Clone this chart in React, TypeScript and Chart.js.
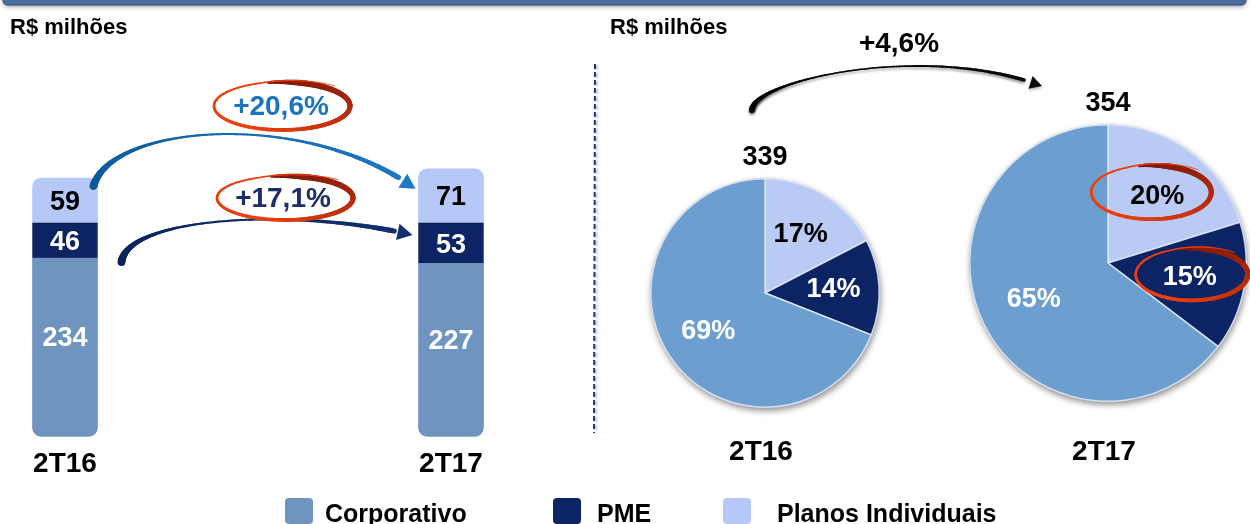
import React, { useEffect, useRef } from 'react';
import { Chart, registerables } from 'chart.js';

Chart.register(...registerables);

// ---------- DATA ----------
const categories = ['2T16', '2T17'];
const seriesNames = ['Corporativo', 'PME', 'Planos Individuais'];
const corporativo = [234, 227];
const pme = [46, 53];
const planos = [59, 71];
const totals = ['339', '354'];
const growthPlanos = '+20,6%';
const growthPme = '+17,1%';
const growthTotal = '+4,6%';
const pieLabels2T16 = ['17%', '14%', '69%']; // Planos, PME, Corporativo
const pieLabels2T17 = ['20%', '15%', '65%'];
const unitLabel = 'R$ milhões';

// ---------- STYLE ----------
const FONT = '"Liberation Sans", Arial, Helvetica, sans-serif';
const C_CORP = '#6f94c0';
const C_CORP_PIE = '#6c9fcf';
const C_PME = '#0c2464';
const C_PLANOS = '#b5c8f8';
const C_PLANOS_PIE = '#b9cbf5';

type P = { x: number; y: number };

function lerp(a: number, b: number, t: number) {
  return a + (b - a) * t;
}
function mix(c1: number[], c2: number[], t: number) {
  return `rgb(${Math.round(lerp(c1[0], c2[0], t))},${Math.round(lerp(c1[1], c2[1], t))},${Math.round(
    lerp(c1[2], c2[2], t)
  )})`;
}

function drawSwirl(ctx: CanvasRenderingContext2D, cx: number, cy: number, rx: number, ry: number) {
  const dark = [120, 22, 8];
  const bright = [236, 62, 14];
  const a0 = -Math.PI * 0.5 - 0.2;
  const span = Math.PI * 2 + 0.95;
  const n = 160;
  ctx.save();
  ctx.lineCap = 'round';
  let prev: P | null = null;
  for (let i = 0; i <= n; i++) {
    const t = i / n;
    const a = a0 + span * t;
    const s = 1 + Math.max(0, t - 0.84) * 0.9;
    const x = cx + rx * s * Math.cos(a);
    const y = cy + ry * s * Math.sin(a);
    if (prev) {
      const w = t < 0.07 ? lerp(2.5, 6, t / 0.07) : lerp(6, 0.7, (t - 0.07) / 0.93);
      ctx.strokeStyle = mix(dark, bright, Math.min(1, t * 1.9));
      ctx.lineWidth = w;
      ctx.beginPath();
      ctx.moveTo(prev.x, prev.y);
      ctx.lineTo(x, y);
      ctx.stroke();
    }
    prev = { x, y };
  }
  ctx.restore();
}

function drawArrow(
  ctx: CanvasRenderingContext2D,
  p0: P,
  p1: P,
  p2: P,
  p3: P,
  c0: number[],
  c1: number[],
  wStart: number,
  wMid: number,
  wEnd: number,
  head: number
) {
  const bez = (t: number): P => {
    const u = 1 - t;
    return {
      x: u * u * u * p0.x + 3 * u * u * t * p1.x + 3 * u * t * t * p2.x + t * t * t * p3.x,
      y: u * u * u * p0.y + 3 * u * u * t * p1.y + 3 * u * t * t * p2.y + t * t * t * p3.y,
    };
  };
  ctx.save();
  ctx.lineCap = 'round';
  const n = 120;
  const tEnd = 0.95;
  let prev = bez(0);
  for (let i = 1; i <= n; i++) {
    const t = (i / n) * tEnd;
    const q = bez(t);
    const w =
      t < 0.5
        ? wMid + (wStart - wMid) * Math.pow(1 - t / 0.5, 2)
        : wMid + (wEnd - wMid) * Math.pow((t - 0.5) / 0.5, 2);
    ctx.strokeStyle = mix(c0, c1, t);
    ctx.lineWidth = w;
    ctx.beginPath();
    ctx.moveTo(prev.x, prev.y);
    ctx.lineTo(q.x, q.y);
    ctx.stroke();
    prev = q;
  }
  const tip = bez(1);
  const back = bez(0.93);
  let dx = tip.x - back.x;
  let dy = tip.y - back.y;
  const len = Math.hypot(dx, dy) || 1;
  dx /= len;
  dy /= len;
  const bx = tip.x - dx * head;
  const by = tip.y - dy * head;
  const px = -dy;
  const py = dx;
  ctx.fillStyle = mix(c0, c1, 1);
  ctx.beginPath();
  ctx.moveTo(tip.x, tip.y);
  ctx.lineTo(bx + px * head * 0.55, by + py * head * 0.55);
  ctx.lineTo(bx - px * head * 0.55, by - py * head * 0.55);
  ctx.closePath();
  ctx.fill();
  ctx.restore();
}

function roundRectPath(ctx: CanvasRenderingContext2D, x: number, y: number, w: number, h: number, r: number) {
  ctx.beginPath();
  ctx.moveTo(x + r, y);
  ctx.lineTo(x + w - r, y);
  ctx.quadraticCurveTo(x + w, y, x + w, y + r);
  ctx.lineTo(x + w, y + h - r);
  ctx.quadraticCurveTo(x + w, y + h, x + w - r, y + h);
  ctx.lineTo(x + r, y + h);
  ctx.quadraticCurveTo(x, y + h, x, y + h - r);
  ctx.lineTo(x, y + r);
  ctx.quadraticCurveTo(x, y, x + r, y);
  ctx.closePath();
}

// ---------- bar chart overlay plugin ----------
const barOverlay = {
  id: 'barOverlay',
  afterDatasetsDraw(chart: any) {
    const ctx: CanvasRenderingContext2D = chart.ctx;
    const colors = ['#ffffff', '#ffffff', '#000000'];
    ctx.save();
    ctx.font = `bold 27px ${FONT}`;
    ctx.textAlign = 'center';
    ctx.textBaseline = 'middle';
    chart.data.datasets.forEach((ds: any, di: number) => {
      const meta = chart.getDatasetMeta(di);
      meta.data.forEach((el: any, i: number) => {
        const { x, y, base } = el.getProps(['x', 'y', 'base'], true);
        const h = base - y;
        const ty = di === 0 ? y + h * 0.45 : y + h / 2 + 2;
        ctx.fillStyle = colors[di];
        ctx.fillText(String(ds.data[i]), x, ty);
      });
    });
    ctx.restore();
  },
  afterDraw(chart: any) {
    const ctx: CanvasRenderingContext2D = chart.ctx;
    ctx.save();
    // header bar
    ctx.save();
    ctx.shadowColor = 'rgba(0,0,0,0.35)';
    ctx.shadowBlur = 4;
    ctx.shadowOffsetY = 2;
    roundRectPath(ctx, 3, -10, 1243, 15, 5);
    ctx.fillStyle = '#4a6d9e';
    ctx.fill();
    ctx.restore();
    roundRectPath(ctx, 3, -10, 1243, 15, 5);
    ctx.strokeStyle = '#2d4b7c';
    ctx.lineWidth = 1;
    ctx.stroke();

    // unit labels
    ctx.fillStyle = '#000';
    ctx.font = `bold 22px ${FONT}`;
    ctx.textAlign = 'left';
    ctx.textBaseline = 'alphabetic';
    ctx.fillText(unitLabel, 10, 34);
    ctx.fillText(unitLabel, 610, 34);

    // divider
    ctx.save();
    ctx.shadowColor = 'rgba(0,0,0,0.25)';
    ctx.shadowBlur = 2;
    ctx.shadowOffsetX = 2;
    ctx.shadowOffsetY = 1;
    ctx.strokeStyle = '#24309a';
    ctx.lineWidth = 2;
    ctx.setLineDash([5, 3]);
    ctx.beginPath();
    ctx.moveTo(595, 64);
    ctx.lineTo(594, 433);
    ctx.stroke();
    ctx.restore();

    // arrows between bars
    const mPme = chart.getDatasetMeta(1).data;
    const mPlan = chart.getDatasetMeta(2).data;
    const b0 = mPlan[0].getProps(['x', 'y', 'width'], true);
    const b1 = mPlan[1].getProps(['x', 'y', 'width'], true);
    const s0: P = { x: b0.x + b0.width / 2 - 4, y: b0.y + 8 };
    const e0: P = { x: b1.x - b1.width / 2 - 3, y: b1.y + 20 };
    drawArrow(
      ctx,
      s0,
      { x: s0.x + 18, y: s0.y - 62 },
      { x: e0.x - 110, y: e0.y - 80 },
      e0,
      [12, 88, 152],
      [30, 120, 200],
      8,
      2,
      6,
      15
    );
    const p0 = mPme[0].getProps(['x', 'y', 'width', 'base'], true);
    const p1 = mPme[1].getProps(['x', 'y', 'width'], true);
    const s1: P = { x: p0.x + p0.width / 2 + 24, y: p0.base + 4 };
    const e1: P = { x: p1.x - p1.width / 2 - 6, y: p1.y + 12 };
    drawArrow(
      ctx,
      s1,
      { x: s1.x + 6, y: s1.y - 45 },
      { x: e1.x - 120, y: e1.y - 28 },
      e1,
      [10, 36, 92],
      [18, 48, 110],
      8,
      2,
      6,
      15
    );

    // growth labels with swirls
    drawSwirl(ctx, 282, 106, 68, 24);
    drawSwirl(ctx, 285, 198, 68, 22);
    ctx.font = `bold 28px ${FONT}`;
    ctx.textAlign = 'center';
    ctx.textBaseline = 'middle';
    ctx.fillStyle = '#1a74c2';
    ctx.fillText(growthPlanos, 281, 107);
    ctx.fillStyle = '#1b2d6b';
    ctx.fillText(growthPme, 283, 199);

    // total growth arrow between pies
    ctx.save();
    ctx.shadowColor = 'rgba(0,0,0,0.3)';
    ctx.shadowBlur = 3;
    ctx.shadowOffsetY = 2;
    drawArrow(
      ctx,
      { x: 752, y: 110 },
      { x: 754, y: 80 },
      { x: 925, y: 42 },
      { x: 1042, y: 86 },
      [0, 0, 0],
      [10, 10, 10],
      6,
      1.5,
      4,
      12
    );
    ctx.restore();
    ctx.fillStyle = '#000';
    ctx.font = `bold 28px ${FONT}`;
    ctx.textAlign = 'center';
    ctx.textBaseline = 'alphabetic';
    ctx.fillText(growthTotal, 899, 52);

    // legend
    const legendColors = [C_CORP, C_PME, C_PLANOS];
    const legendX = [285, 553, 723];
    const textX = [325, 597, 777];
    ctx.font = `bold 25px ${FONT}`;
    ctx.textAlign = 'left';
    seriesNames.forEach((name, i) => {
      roundRectPath(ctx, legendX[i], 498, 28, 26, 4);
      ctx.fillStyle = legendColors[i];
      ctx.fill();
      ctx.fillStyle = '#000';
      ctx.fillText(name, textX[i], 522);
    });
    ctx.restore();
  },
};

// ---------- pie plugin ----------
const pieDeco = {
  id: 'pieDeco',
  beforeDatasetsDraw(chart: any) {
    const ctx: CanvasRenderingContext2D = chart.ctx;
    const arc = chart.getDatasetMeta(0).data[0];
    const { x, y, outerRadius } = arc.getProps(['x', 'y', 'outerRadius'], true);
    ctx.save();
    ctx.shadowColor = 'rgba(0,0,0,0.45)';
    ctx.shadowBlur = 6;
    ctx.shadowOffsetX = 1;
    ctx.shadowOffsetY = 3;
    ctx.beginPath();
    ctx.arc(x, y, outerRadius + 0.5, 0, Math.PI * 2);
    ctx.fillStyle = '#7f90aa';
    ctx.fill();
    ctx.restore();
  },
  afterDatasetsDraw(chart: any, _args: any, opts: any) {
    const ctx: CanvasRenderingContext2D = chart.ctx;
    const meta = chart.getDatasetMeta(0);
    const colors = ['#000', '#fff', '#fff'];
    ctx.save();
    let cx = 0;
    let cy = 0;
    let R = 0;
    const positions: P[] = [];
    meta.data.forEach((arc: any) => {
      const { x, y, startAngle, endAngle, outerRadius } = arc.getProps(
        ['x', 'y', 'startAngle', 'endAngle', 'outerRadius'],
        true
      );
      cx = x;
      cy = y;
      R = outerRadius;
      const mid = (startAngle + endAngle) / 2;
      positions.push({ x: x + Math.cos(mid) * outerRadius * 0.6, y: y + Math.sin(mid) * outerRadius * 0.6 });
    });
    if (opts.swirls) {
      drawSwirl(ctx, positions[0].x - 6, positions[0].y - 4, 60, 27);
      drawSwirl(ctx, positions[1].x + 2, positions[1].y - 3, 56, 26);
    }
    ctx.font = `bold 27px ${FONT}`;
    ctx.textAlign = 'center';
    ctx.textBaseline = 'middle';
    positions.forEach((p, i) => {
      ctx.fillStyle = colors[i];
      ctx.fillText(opts.labels[i], p.x, p.y);
    });
    ctx.fillStyle = '#000';
    ctx.textBaseline = 'alphabetic';
    ctx.fillText(opts.total, cx, cy - R - 14);
    ctx.font = `bold 28px ${FONT}`;
    ctx.fillText(opts.category, cx - 4, chart.height - 10);
    ctx.restore();
  },
};

function makePie(canvas: HTMLCanvasElement, values: number[], labels: string[], total: string, category: string, pad: any, swirls: boolean) {
  return new Chart(canvas, {
    type: 'pie',
    data: {
      labels: [seriesNames[2], seriesNames[1], seriesNames[0]],
      datasets: [
        {
          data: values,
          backgroundColor: [C_PLANOS_PIE, C_PME, C_CORP_PIE],
          borderColor: 'rgba(225,232,245,0.9)',
          borderWidth: 1.5,
        },
      ],
    },
    options: {
      responsive: false,
      animation: false,
      events: [],
      layout: { padding: pad },
      plugins: {
        legend: { display: false },
        tooltip: { enabled: false },
        pieDeco: { labels, total, category, swirls },
      } as any,
    },
    plugins: [pieDeco as any],
  });
}

export default function App() {
  const barRef = useRef<HTMLCanvasElement>(null);
  const pie1Ref = useRef<HTMLCanvasElement>(null);
  const pie2Ref = useRef<HTMLCanvasElement>(null);

  useEffect(() => {
    const bar = new Chart(barRef.current!, {
      type: 'bar',
      data: {
        labels: categories,
        datasets: [
          {
            label: seriesNames[0],
            data: corporativo,
            backgroundColor: C_CORP,
            borderRadius: { topLeft: 0, topRight: 0, bottomLeft: 9, bottomRight: 9 },
            borderSkipped: false,
            barThickness: 65,
            clip: false as any,
          },
          {
            label: seriesNames[1],
            data: pme,
            backgroundColor: C_PME,
            borderColor: '#08194a',
            borderWidth: 1,
            borderRadius: 6,
            borderSkipped: false,
            barThickness: 65,
            clip: false as any,
          },
          {
            label: seriesNames[2],
            data: planos,
            backgroundColor: C_PLANOS,
            borderRadius: { topLeft: 9, topRight: 9, bottomLeft: 0, bottomRight: 0 },
            borderSkipped: false,
            barThickness: 65,
            clip: false as any,
          },
        ],
      },
      options: {
        responsive: false,
        animation: false,
        events: [],
        layout: { padding: { left: 65, right: 799, top: 40, bottom: 32 } },
        plugins: {
          legend: { display: false },
          tooltip: { enabled: false },
        },
        scales: {
          x: {
            stacked: true,
            offset: false,
            grid: { display: false, drawTicks: false },
            border: { display: false },
            ticks: {
              color: '#000',
              font: { family: FONT, size: 28, weight: 'bold' },
              padding: 11,
              maxRotation: 0,
              autoSkip: false,
            },
          },
          y: { stacked: true, display: false, min: 0, max: 520 },
        },
      },
      plugins: [barOverlay as any],
    });

    const pie1 = makePie(
      pie1Ref.current!,
      [planos[0], pme[0], corporativo[0]],
      pieLabels2T16,
      totals[0],
      categories[0],
      { left: 50, right: 50, top: 58, bottom: 62 },
      false
    );
    const pie2 = makePie(
      pie2Ref.current!,
      [planos[1], pme[1], corporativo[1]],
      pieLabels2T17,
      totals[1],
      categories[1],
      { left: 29, right: 3, top: 54, bottom: 68 },
      true
    );
    return () => {
      bar.destroy();
      pie1.destroy();
      pie2.destroy();
    };
  }, []);

  return (
    <div style={{ position: 'absolute', left: 0, top: 0, width: 1250, height: 524, background: '#fff', overflow: 'hidden' }}>
      <canvas ref={barRef} width={1250} height={524} style={{ position: 'absolute', left: 0, top: 0 }} />
      <canvas ref={pie1Ref} width={330} height={350} style={{ position: 'absolute', left: 600, top: 120 }} />
      <canvas ref={pie2Ref} width={310} height={400} style={{ position: 'absolute', left: 940, top: 70 }} />
    </div>
  );
}
